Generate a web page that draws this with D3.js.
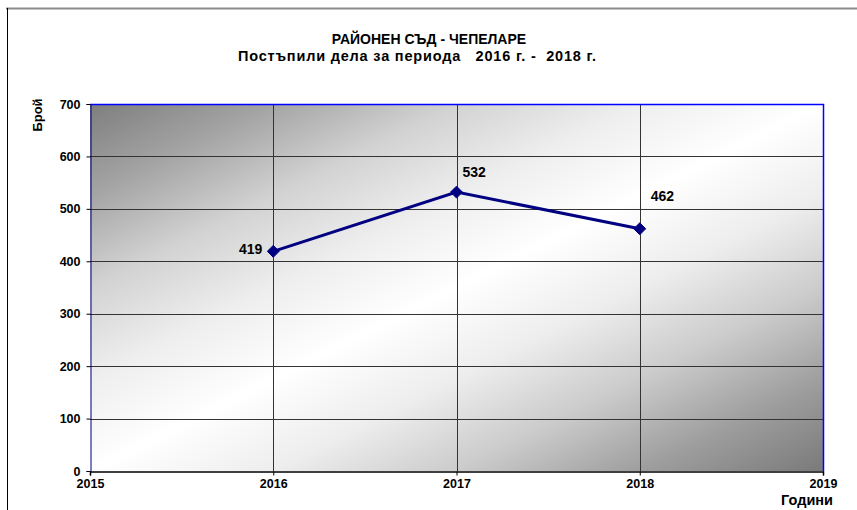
<!DOCTYPE html>
<html><head><meta charset="utf-8">
<script src="https://cdn.jsdelivr.net/npm/d3@7"></script>
<style>
body{margin:0;background:#fff;}
svg{display:block;font-family:"Liberation Sans",Arial,sans-serif;font-weight:bold;}
</style></head><body>
<svg id="c" width="857" height="510"></svg>
<script>
const years = [2016, 2017, 2018];
const cases = [419, 532, 462];
const xTicks = [2015, 2016, 2017, 2018, 2019];
const yTicks = [0, 100, 200, 300, 400, 500, 600, 700];
const titleLines = ["РАЙОНЕН СЪД - ЧЕПЕЛАРЕ", "Постъпили дела за периода   2016 г. -  2018 г."];
const yTitle = "Брой";
const xTitle = "Години";

const svg = d3.select("#c");
const m = {l:90, r:823, t:104, b:471};
const x = d3.scaleLinear().domain([2015, 2019]).range([m.l, m.r]);
const y = d3.scaleLinear().domain([0, 700]).range([m.b, m.t]);

// outer chart border
svg.append("line").attr("x1",6).attr("x2",857).attr("y1",8.5).attr("y2",8.5).attr("stroke","#8a8a8a").attr("stroke-width",2);
svg.append("line").attr("x1",7.5).attr("x2",7.5).attr("y1",8).attr("y2",510).attr("stroke","#000").attr("stroke-width",1);

// gradient
const defs = svg.append("defs");
const g = defs.append("linearGradient").attr("id","bg").attr("x1",0).attr("y1",0).attr("x2",1).attr("y2",1);
[[0,"#7e7e7e"],[0.125,"#a4a4a4"],[0.25,"#d2d2d2"],[0.375,"#eeeeee"],[0.5,"#ffffff"],
 [0.625,"#ededed"],[0.75,"#cbcbcb"],[0.875,"#9e9e9e"],[1,"#7a7a7a"]].forEach(s=>
  g.append("stop").attr("offset",s[0]).attr("stop-color",s[1]));

svg.append("rect").attr("x",m.l).attr("y",m.t).attr("width",m.r-m.l).attr("height",m.b-m.t).attr("fill","url(#bg)");

// gridlines
svg.append("g").selectAll("line").data(yTicks.filter(d=>d>0&&d<700)).join("line")
  .attr("x1",m.l).attr("x2",m.r).attr("y1",d=>Math.round(y(d))+0.5).attr("y2",d=>Math.round(y(d))+0.5)
  .attr("stroke","#333").attr("stroke-width",1);
svg.append("g").selectAll("line").data(xTicks.filter(d=>d>2015&&d<2019)).join("line")
  .attr("x1",d=>Math.round(x(d))+0.5).attr("x2",d=>Math.round(x(d))+0.5).attr("y1",m.t).attr("y2",m.b)
  .attr("stroke","#333").attr("stroke-width",1);

// plot border top/right blue
svg.append("path").attr("d",`M${m.l},${m.t+0.5}H${m.r+0.5}V${m.b}`).attr("fill","none").attr("stroke","#0000ff").attr("stroke-width",1.5);

// axes
const yAxis = d3.axisLeft(y).tickValues(yTicks).tickSize(4).tickPadding(6);
const ya = svg.append("g").attr("transform",`translate(${m.l+0.5},0)`).call(yAxis);
ya.select(".domain").attr("stroke","#000080").attr("stroke-width",1);
ya.selectAll(".tick line").attr("stroke","#000");
ya.selectAll("text").attr("font-size",12.5).attr("font-weight","bold").attr("fill","#000").attr("font-family","Liberation Sans, Arial, sans-serif");

const xAxis = d3.axisBottom(x).tickValues(xTicks).tickFormat(d3.format("d")).tickSize(4).tickPadding(4);
const xa = svg.append("g").attr("transform",`translate(0,${m.b+0.5})`).call(xAxis);
xa.select(".domain").attr("stroke","#000").attr("stroke-width",1.5);
xa.selectAll(".tick line").attr("stroke","#000");
xa.selectAll("text").attr("font-size",12.5).attr("font-weight","bold").attr("fill","#000").attr("font-family","Liberation Sans, Arial, sans-serif");

// line
const line = d3.line().x((d,i)=>x(years[i])).y(d=>y(d));
svg.append("path").datum(cases).attr("d",line).attr("fill","none").attr("stroke","#000080").attr("stroke-width",3);

// markers
svg.append("g").selectAll("path").data(cases).join("path")
  .attr("d", d3.symbol(d3.symbolDiamond2 || d3.symbolDiamond, 90))
  .attr("transform",(d,i)=>`translate(${x(years[i])},${y(d)})`)
  .attr("fill","#000080").attr("stroke","#000080").attr("stroke-width",1);

// data labels
const labelOff = [{dx:-11,dy:3,a:"end"},{dx:6,dy:-15,a:"start"},{dx:11,dy:-28,a:"start"}];
svg.append("g").selectAll("text").data(cases).join("text")
  .attr("x",(d,i)=>x(years[i])+labelOff[i].dx).attr("y",(d,i)=>y(d)+labelOff[i].dy)
  .attr("text-anchor",(d,i)=>labelOff[i].a).attr("font-size",14).text(d=>d);

// titles
svg.append("text").attr("x",429).attr("y",44).attr("text-anchor","middle").attr("font-size",14).text(titleLines[0]);
svg.append("text").attr("x",417).attr("y",61).attr("text-anchor","middle").attr("font-size",14.5)
  .attr("textLength",358).attr("lengthAdjust","spacing").style("white-space","pre").text(titleLines[1]);

svg.append("text").attr("transform","translate(42,115) rotate(-90)").attr("text-anchor","middle").attr("font-size",13).text(yTitle);
svg.append("text").attr("x",833).attr("y",505).attr("text-anchor","end").attr("font-size",14.5).text(xTitle);
</script>
</body></html>
